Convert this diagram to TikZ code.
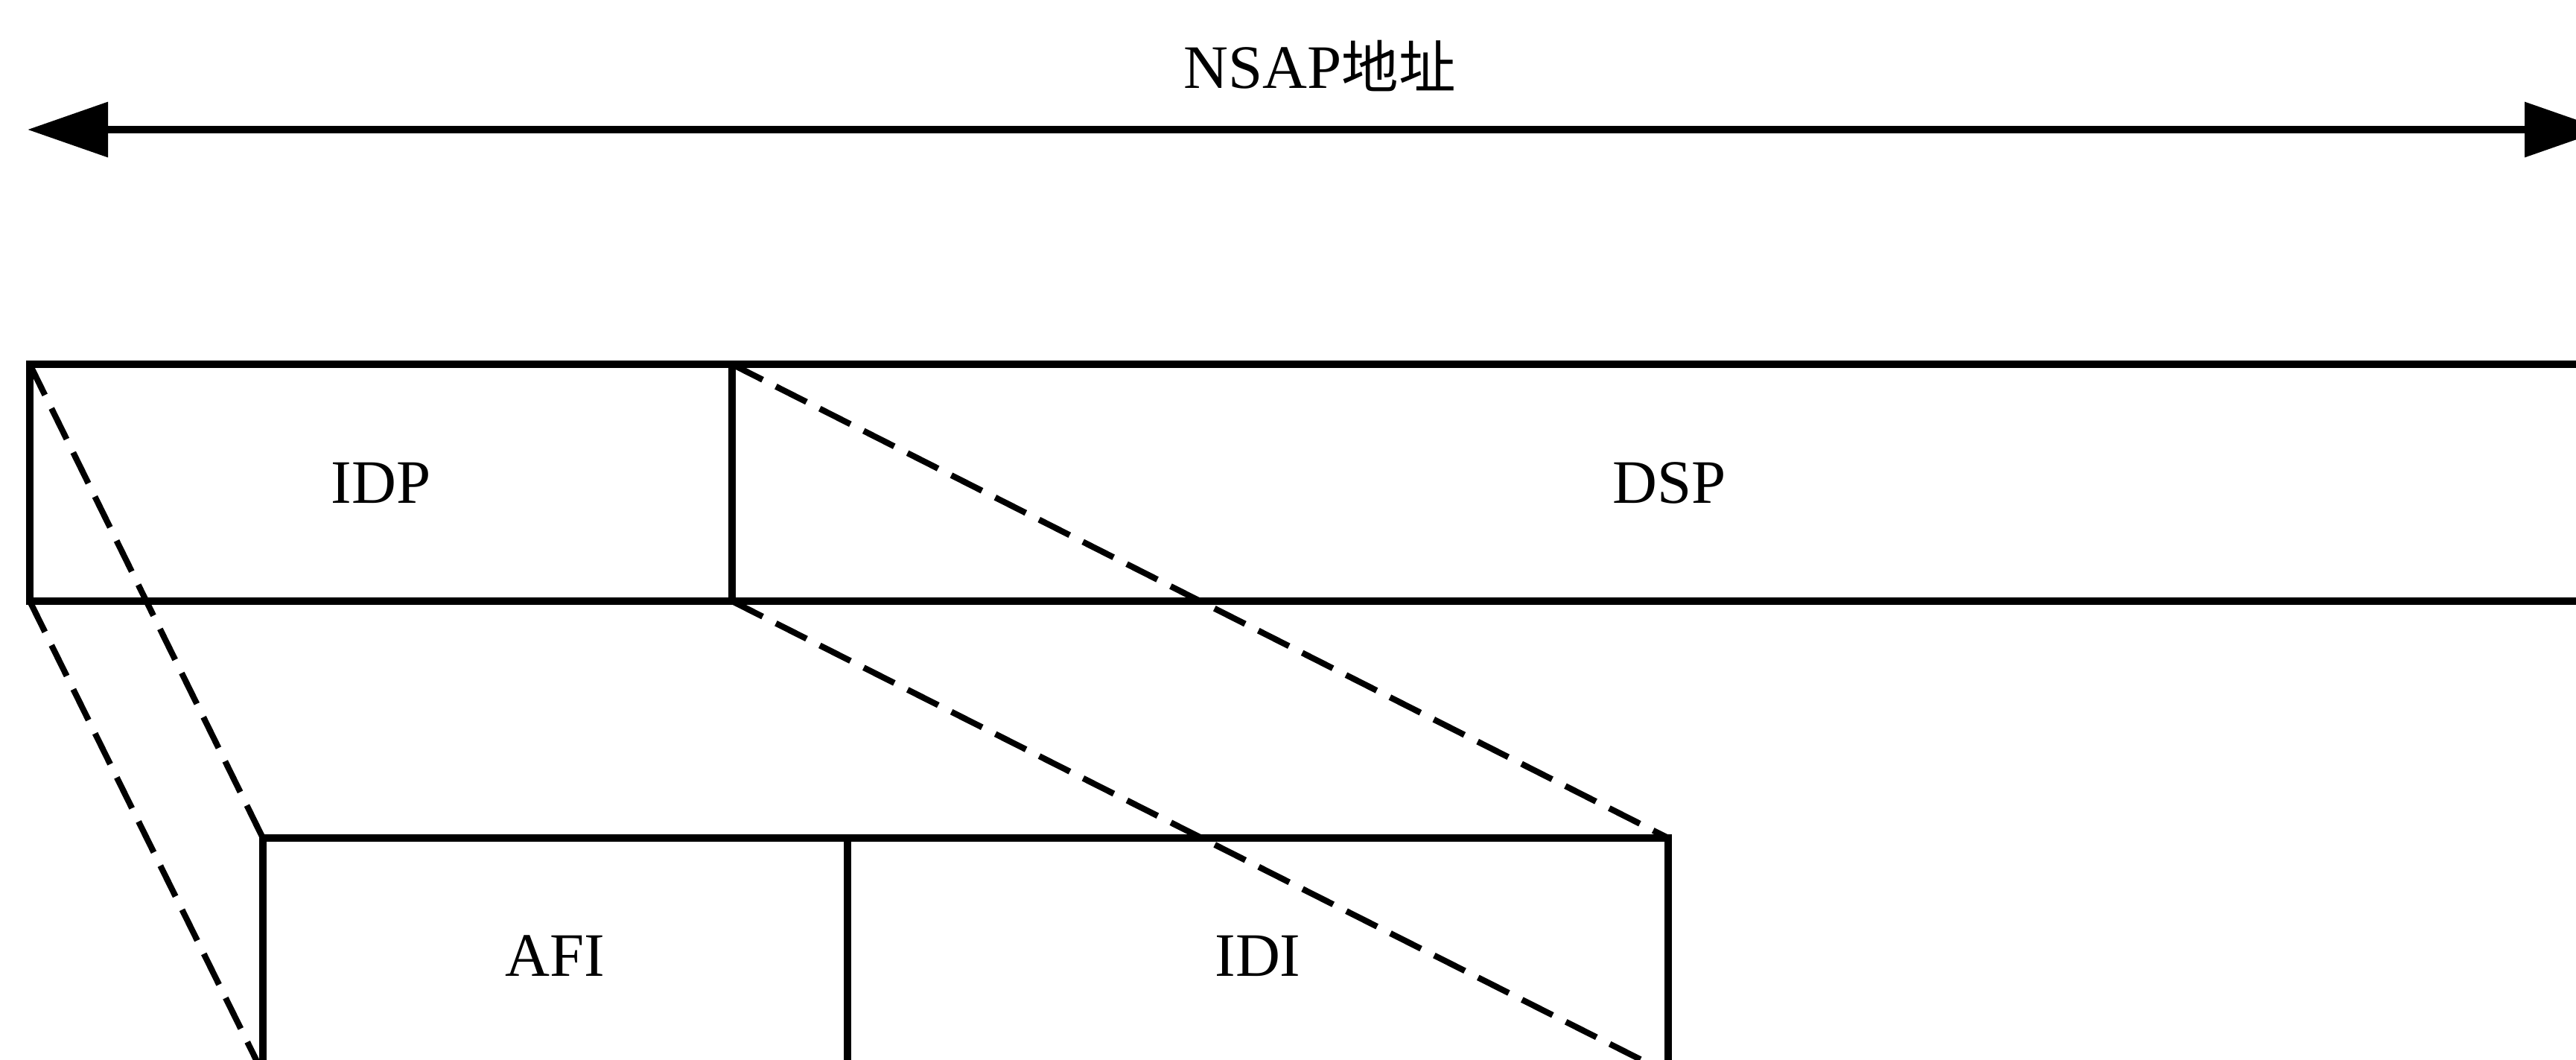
\documentclass[tikz,border=0pt]{standalone}
\usepackage{fontspec}
\setmainfont{Liberation Serif}
\newfontfamily\cjk{Noto Sans CJK SC}
\usetikzlibrary{arrows.meta}
\tikzset{
  field/.style={draw, line width=2.7pt, rectangle, inner sep=0pt, outer sep=0pt,
    anchor=north west, font=\fontsize{23.6}{28}\selectfont},
  proj/.style={line width=2.3pt, dash pattern=on 0.46cm off 0.2cm},
  span/.style={line width=2.9pt, {Triangle[length=1.08cm,width=0.72cm]}-{Triangle[length=1.08cm,width=0.72cm]}}
}
\begin{document}
\begin{tikzpicture}
\useasboundingbox (0,0) rectangle (34.59,-14.22);
\clip (0,0) rectangle (34.59,-14.22);
% top arrow
\coordinate (la) at (0.37,-1.74);
\coordinate (ra) at (34.98,-1.74);
\draw[span] (la) -- (ra);
\node[font=\fontsize{23.6}{28}\selectfont] (title) at (17.72,-0.88) {NSAP{\cjk\fontsize{21.8}{28}\selectfont 地址}};
% top fields
\node[field, minimum width=9.43cm, minimum height=3.18cm] (idp) at (0.40,-4.89) {IDP};
\node[field, minimum width=25.17cm, minimum height=3.18cm] (dsp) at (9.83,-4.89) {DSP};
% lower fields
\node[field, minimum width=7.85cm, minimum height=3.16cm] (afi) at (3.53,-11.25) {AFI};
\node[field, minimum width=11.02cm, minimum height=3.16cm] (idi) at (11.38,-11.25) {IDI};
% projection lines
\draw[proj] (idp.north west) -- (afi.north west);
\draw[proj] (idp.south west) -- (afi.south west);
\draw[proj] (idp.north east) -- (idi.north east);
\draw[proj] (idp.south east) -- (idi.south east);
\end{tikzpicture}
\end{document}
